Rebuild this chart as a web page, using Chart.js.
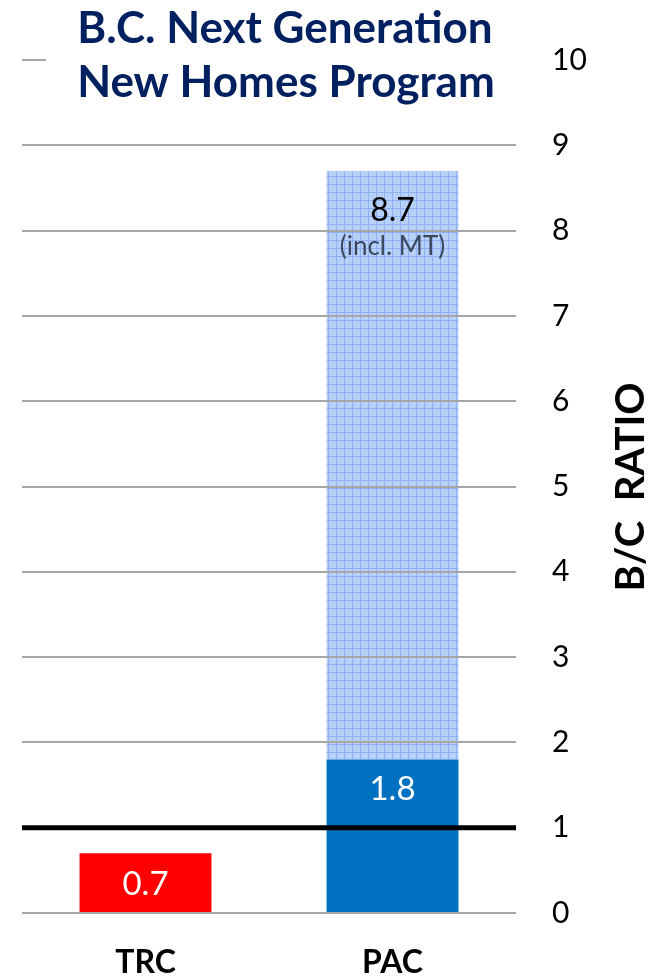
<!DOCTYPE html>
<html>
<head>
<meta charset="utf-8">
<script src="https://cdn.jsdelivr.net/npm/chart.js@4"></script>
<style>
  html, body { margin: 0; padding: 0; background: #fff; }
  #wrap { width: 662px; height: 976px; position: relative; }
</style>
</head>
<body>
<div id="wrap"><canvas id="bcChart"></canvas></div>
<script>
// data
const categories = ['TRC', 'PAC'];
const baseValues = [0.7, 1.8];
const totalValues = [0.7, 8.7];
const totalNote = '(incl. MT)';
const threshold = 1;
const yMin = 0, yMax = 10, yStep = 1;
const titleLines = ['B.C. Next Generation', 'New Homes Program'];
const axisTitle = 'B/C  RATIO';

const mtValues = totalValues.map((t, i) => (t > baseValues[i] ? +(t - baseValues[i]).toFixed(1) : null));

// light blue grid-textured fill
function makePattern() {
  const c = document.createElement('canvas');
  c.width = 8; c.height = 8;
  const g = c.getContext('2d');
  g.fillStyle = '#bfd5fb';
  g.fillRect(0, 0, 8, 8);
  g.fillStyle = '#b0cbf8';
  for (let y = 0; y < 8; y++) for (let x = (y % 2); x < 8; x += 2) g.fillRect(x, y, 1, 1);
  g.fillStyle = '#8db1f2';
  g.fillRect(0, 0, 8, 1);
  g.fillRect(0, 0, 1, 8);
  return g.createPattern(c, 'repeat');
}

const FONT = 'Lato, "Open Sans", sans-serif';

const overlay = {
  id: 'overlay',
  afterDraw(chart) {
    const { ctx, chartArea, scales } = chart;
    const y = scales.y;
    ctx.save();
    // threshold line
    ctx.strokeStyle = '#000';
    ctx.lineWidth = 5;
    ctx.beginPath();
    ctx.moveTo(chartArea.left, y.getPixelForValue(threshold));
    ctx.lineTo(chartArea.right, y.getPixelForValue(threshold));
    ctx.stroke();

    // value labels
    ctx.textAlign = 'center';
    ctx.textBaseline = 'middle';
    const base = chart.getDatasetMeta(0).data;
    base.forEach((bar, i) => {
      ctx.font = '33px ' + FONT;
      ctx.fillStyle = '#fff';
      const cy = i === 0 ? (bar.y + bar.base) / 2 + 2 : bar.y + 30;
      ctx.fillText(baseValues[i].toFixed(1), bar.x, cy);
    });
    const mt = chart.getDatasetMeta(1).data;
    mt.forEach((bar, i) => {
      if (mtValues[i] == null) return;
      ctx.font = '32px ' + FONT;
      ctx.fillStyle = '#000';
      ctx.fillText(totalValues[i].toFixed(1), bar.x, bar.y + 40);
      ctx.font = '26px ' + FONT;
      ctx.fillStyle = '#3b475e';
      ctx.fillText(totalNote, bar.x, bar.y + 76);
    });

    // title sits on a white box over the top grid line
    ctx.fillStyle = '#fff';
    ctx.fillRect(46, 0, 486, 112);
    ctx.fillStyle = '#002060';
    ctx.font = 'bold 44px ' + FONT;
    ctx.textBaseline = 'alphabetic';
    ctx.fillText(titleLines[0], 285, 43);
    ctx.fillText(titleLines[1], 286, 97);

    // axis title, reading bottom to top
    ctx.translate(631, 487);
    ctx.rotate(-Math.PI / 2);
    ctx.fillStyle = '#000';
    ctx.font = 'bold 40px ' + FONT;
    ctx.textBaseline = 'middle';
    ctx.fillText(axisTitle, 0, 0);
    ctx.restore();
  }
};

new Chart(document.getElementById('bcChart'), {
  type: 'bar',
  data: {
    labels: categories,
    datasets: [
      {
        label: 'Base',
        data: baseValues,
        backgroundColor: ['#ff0000', '#0070c0'],
        borderWidth: 0,
        categoryPercentage: 1,
        barPercentage: 0.534
      },
      {
        label: 'incl. MT',
        data: mtValues,
        backgroundColor: makePattern(),
        borderWidth: 0,
        categoryPercentage: 1,
        barPercentage: 0.534
      }
    ]
  },
  options: {
    responsive: true,
    maintainAspectRatio: false,
    animation: false,
    layout: { padding: { left: 22, top: 60, right: 0, bottom: 0 } },
    plugins: {
      legend: { display: false },
      title: { display: false },
      tooltip: { enabled: false }
    },
    scales: {
      x: {
        stacked: true,
        grid: { display: false },
        border: { display: false },
        ticks: { color: '#000', font: { family: FONT, size: 32, weight: 'bold' }, padding: 22 },
        afterFit: (s) => { s.height = 63; }
      },
      y: {
        stacked: true,
        position: 'right',
        min: yMin,
        max: yMax,
        border: { display: false },
        grid: { color: '#a6a6a6', lineWidth: 2, drawTicks: false, z: 1 },
        ticks: {
          stepSize: yStep,
          color: '#000',
          font: { family: FONT, size: 30 },
          padding: 36
        },
        afterFit: (s) => { s.width = 146; }
      }
    }
  },
  plugins: [overlay]
});
</script>
</body>
</html>
